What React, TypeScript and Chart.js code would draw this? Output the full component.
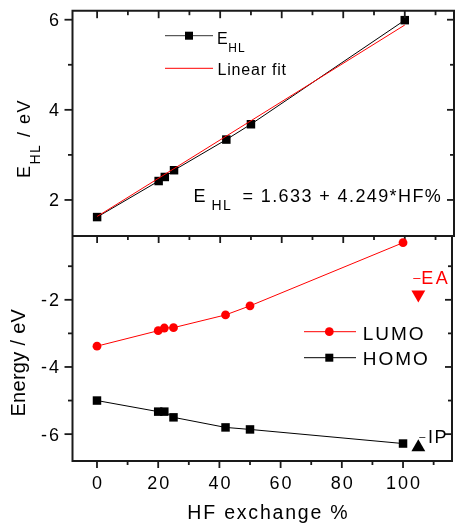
import React, { useEffect, useRef } from "react";
import { Chart, registerables } from "chart.js";

Chart.register(...registerables);

const FONT = "'Liberation Sans', Arial, sans-serif";

// ---- data ----
const hfPercent = [0, 20, 22, 25, 42, 50, 100];
const eHL = [1.62, 2.42, 2.51, 2.66, 3.34, 3.68, 5.99];
const fitX = [0, 100];
const fitY = [1.633, 5.882];
const lumo = [-3.38, -2.92, -2.84, -2.83, -2.45, -2.18, -0.3];
const homo = [-5.0, -5.33, -5.33, -5.5, -5.8, -5.86, -6.28];
const eaX = [105];
const eaY = [-1.84];
const ipX = [105];
const ipY = [-6.39];

const xMajor = [0, 20, 40, 60, 80, 100];
const xMinor = [10, 30, 50, 70, 90, 110];
const topMajor = [2, 4, 6];
const topMinor = [3, 5];
const botMajor = [-2, -4, -6];
const botMinor = [-1, -3, -5];

const X_MIN = -8;
const X_MAX = 116;
const TOP_MIN = 1.2;
const TOP_MAX = 6.2;
const BOT_MIN = -6.8;
const BOT_MAX = -0.1;

const W = 460;
const H = 523;
const AREA_L = 72.5;
const AREA_R = 459.2;
const AREA_TOP = 10.7;
const AREA_MID = 236;
const AREA_BOT = 461;

function txt(
  ctx: CanvasRenderingContext2D,
  s: string,
  x: number,
  y: number,
  size: number,
  color: string,
  align: "left" | "center" | "right" = "left",
  spacing = 0
) {
  ctx.font = `${size}px ${FONT}`;
  (ctx as any).letterSpacing = `${spacing}px`;
  ctx.fillStyle = color;
  ctx.textAlign = "left";
  ctx.textBaseline = "alphabetic";
  const w = ctx.measureText(s).width - spacing;
  let x0 = x;
  if (align === "center") x0 = x - w / 2;
  else if (align === "right") x0 = x - w;
  ctx.fillText(s, x0, y);
  return x0 + w + spacing;
}

function line(ctx: CanvasRenderingContext2D, x1: number, y1: number, x2: number, y2: number) {
  ctx.beginPath();
  ctx.moveTo(x1, y1);
  ctx.lineTo(x2, y2);
  ctx.stroke();
}

const AXIS = "#1a1a1a";

const topFrame = {
  id: "topFrame",
  afterDraw(chart: any) {
    const ctx: CanvasRenderingContext2D = chart.ctx;
    const { left, right, top, bottom } = chart.chartArea;
    const xs = chart.scales.x;
    const ys = chart.scales.y;
    ctx.save();
    ctx.strokeStyle = AXIS;
    ctx.lineWidth = 2;
    ctx.beginPath();
    ctx.moveTo(left, bottom);
    ctx.lineTo(left, top);
    ctx.lineTo(right, top);
    ctx.lineTo(right, bottom);
    ctx.lineTo(left, bottom);
    ctx.stroke();
    ctx.lineWidth = 1.8;
    xMajor.forEach((v) => {
      const p = xs.getPixelForValue(v);
      line(ctx, p, top, p, top + 7.5);
      line(ctx, p, bottom, p, bottom + 7);
    });
    xMinor.forEach((v) => {
      const p = xs.getPixelForValue(v);
      line(ctx, p, top, p, top + 4.5);
      line(ctx, p, bottom, p, bottom + 4);
    });
    topMajor.forEach((v) => {
      const p = ys.getPixelForValue(v);
      line(ctx, left - 8, p, left, p);
      line(ctx, right - 7, p, right, p);
      txt(ctx, String(v), 59, p + 6.4, 18, "#000", "right", 2);
    });
    topMinor.forEach((v) => {
      const p = ys.getPixelForValue(v);
      line(ctx, left - 4.5, p, left, p);
      line(ctx, right - 4, p, right, p);
    });

    // y title (rotated)
    ctx.save();
    ctx.translate(29.5, 178);
    ctx.rotate(-Math.PI / 2);
    let nx = txt(ctx, "E", 0, 0, 18, "#000", "left", 1.5);
    nx = txt(ctx, "HL", nx, 10.5, 14, "#000", "left", 1.5);
    txt(ctx, " / eV", nx, 0, 18, "#000", "left", 1.5);
    ctx.restore();

    // legend
    ctx.strokeStyle = "#333";
    ctx.lineWidth = 1;
    line(ctx, 165, 35.7, 213, 35.7);
    ctx.fillStyle = "#000";
    ctx.fillRect(185, 31.7, 8, 8);
    txt(ctx, "E", 217, 44, 16, "#000", "left", 0.8);
    txt(ctx, "HL", 228.3, 51.7, 12, "#000", "left", 1);
    ctx.strokeStyle = "#ff0000";
    line(ctx, 165, 68.3, 213, 68.3);
    txt(ctx, "Linear fit", 217.5, 75, 16, "#000", "left", 0.8);

    // equation
    txt(ctx, "E", 193.6, 202.3, 18, "#000", "left", 1.5);
    txt(ctx, "HL", 211.5, 209.5, 14, "#000", "left", 1.5);
    txt(ctx, "= 1.633 + 4.249*HF%", 242.5, 202.3, 18, "#000", "left", 1.4);
    ctx.restore();
  },
};

const botFrame = {
  id: "botFrame",
  afterDraw(chart: any) {
    const ctx: CanvasRenderingContext2D = chart.ctx;
    const { left, right, top, bottom } = chart.chartArea;
    const xs = chart.scales.x;
    const ys = chart.scales.y;
    ctx.save();
    ctx.strokeStyle = AXIS;
    ctx.lineWidth = 2;
    ctx.beginPath();
    ctx.moveTo(left, top);
    ctx.lineTo(left, bottom);
    ctx.lineTo(right, bottom);
    ctx.lineTo(right, top);
    ctx.stroke();
    ctx.lineWidth = 1.8;
    xMajor.forEach((v) => {
      const p = xs.getPixelForValue(v);
      line(ctx, p, bottom, p, bottom + 7);
      txt(ctx, String(v), p, 488.5, 18, "#000", "center", 2);
    });
    xMinor.forEach((v) => {
      const p = xs.getPixelForValue(v);
      line(ctx, p, bottom, p, bottom + 4);
    });
    botMajor.forEach((v) => {
      const p = ys.getPixelForValue(v);
      line(ctx, left - 8, p, left, p);
      line(ctx, right - 7, p, right, p);
      txt(ctx, String(v), 59, p + 6.4, 18, "#000", "right", 2);
    });
    botMinor.forEach((v) => {
      const p = ys.getPixelForValue(v);
      line(ctx, left - 4.5, p, left, p);
      line(ctx, right - 4, p, right, p);
    });

    // titles
    ctx.save();
    ctx.translate(25.3, 416.6);
    ctx.rotate(-Math.PI / 2);
    txt(ctx, "Energy / eV", 0, 0, 20, "#000", "left", 0.3);
    ctx.restore();
    txt(ctx, "HF exchange %", 267.5, 519, 19.5, "#000", "center", 1.8);

    // legend
    ctx.lineWidth = 1;
    ctx.strokeStyle = "#ff0000";
    line(ctx, 304, 331.7, 356, 331.7);
    ctx.fillStyle = "#ff0000";
    ctx.beginPath();
    ctx.arc(329.3, 331.7, 4.4, 0, Math.PI * 2);
    ctx.fill();
    txt(ctx, "LUMO", 362.7, 340, 19, "#000", "left", 2);
    ctx.strokeStyle = "#000";
    line(ctx, 304, 357.7, 356, 357.7);
    ctx.fillStyle = "#000";
    ctx.fillRect(325.3, 353.7, 8, 8);
    txt(ctx, "HOMO", 362.7, 365, 19, "#000", "left", 2);

    // EA / IP labels
    txt(ctx, "\u2013", 413.3, 281.5, 13, "#ff0000", "left", 0);
    txt(ctx, "EA", 421.3, 284.3, 18, "#ff0000", "left", 2.5);
    txt(ctx, "\u2013", 419.3, 439.6, 11, "#000", "left", 0);
    txt(ctx, "IP", 428, 442.5, 18, "#000", "left", 1.5);
    ctx.restore();
  },
};

function pts(xs: number[], ys: number[]) {
  return xs.map((x, i) => ({ x, y: ys[i] }));
}

export default function App() {
  const topRef = useRef<HTMLCanvasElement | null>(null);
  const botRef = useRef<HTMLCanvasElement | null>(null);

  useEffect(() => {
    const common = {
      responsive: false,
      animation: false as const,
      devicePixelRatio: 1,
      plugins: { legend: { display: false }, tooltip: { enabled: false } },
      events: [] as any[],
    };
    const topChart = new Chart(topRef.current as HTMLCanvasElement, {
      type: "line",
      data: {
        datasets: [
          {
            label: "Linear fit",
            data: pts(fitX, fitY),
            borderColor: "#ff0000",
            borderWidth: 1,
            pointRadius: 0,
            order: 0,
            clip: false,
          },
          {
            label: "EHL",
            data: pts(hfPercent, eHL),
            borderColor: "#000",
            borderWidth: 1,
            pointStyle: "rect",
            pointRadius: 6,
            pointBackgroundColor: "#000",
            pointBorderColor: "#000",
            pointBorderWidth: 0,
            order: 1,
            clip: false,
          },
        ],
      } as any,
      options: {
        ...common,
        layout: {
          padding: { left: AREA_L, right: W - AREA_R, top: AREA_TOP, bottom: H - AREA_MID },
        },
        scales: {
          x: { type: "linear", min: X_MIN, max: X_MAX, display: false },
          y: { type: "linear", min: TOP_MIN, max: TOP_MAX, display: false },
        },
      } as any,
      plugins: [topFrame],
    });

    const botChart = new Chart(botRef.current as HTMLCanvasElement, {
      type: "line",
      data: {
        datasets: [
          {
            label: "LUMO",
            data: pts(hfPercent, lumo),
            borderColor: "#ff0000",
            borderWidth: 1,
            pointStyle: "circle",
            pointRadius: 4.4,
            pointBackgroundColor: "#ff0000",
            pointBorderColor: "#ff0000",
            pointBorderWidth: 0,
            clip: false,
          },
          {
            label: "HOMO",
            data: pts(hfPercent, homo),
            borderColor: "#000",
            borderWidth: 1,
            pointStyle: "rect",
            pointRadius: 6,
            pointBackgroundColor: "#000",
            pointBorderColor: "#000",
            pointBorderWidth: 0,
            clip: false,
          },
          {
            label: "-EA",
            data: pts(eaX, eaY),
            showLine: false,
            pointStyle: "triangle",
            rotation: 180,
            pointRadius: 8,
            pointBackgroundColor: "#ff0000",
            pointBorderColor: "#ff0000",
            pointBorderWidth: 0,
            clip: false,
          },
          {
            label: "-IP",
            data: pts(ipX, ipY),
            showLine: false,
            pointStyle: "triangle",
            pointRadius: 8,
            pointBackgroundColor: "#000",
            pointBorderColor: "#000",
            pointBorderWidth: 0,
            clip: false,
          },
        ],
      } as any,
      options: {
        ...common,
        layout: {
          padding: { left: AREA_L, right: W - AREA_R, top: AREA_MID, bottom: H - AREA_BOT },
        },
        scales: {
          x: { type: "linear", min: X_MIN, max: X_MAX, display: false },
          y: { type: "linear", min: BOT_MIN, max: BOT_MAX, display: false },
        },
      } as any,
      plugins: [botFrame],
    });

    return () => {
      topChart.destroy();
      botChart.destroy();
    };
  }, []);

  const cstyle: React.CSSProperties = { position: "absolute", left: 0, top: 0, width: W, height: H };
  return (
    <div style={{ position: "fixed", left: 0, top: 0, width: W, height: H, background: "#fff" }}>
      <canvas ref={topRef} width={W} height={H} style={cstyle} />
      <canvas ref={botRef} width={W} height={H} style={cstyle} />
    </div>
  );
}
